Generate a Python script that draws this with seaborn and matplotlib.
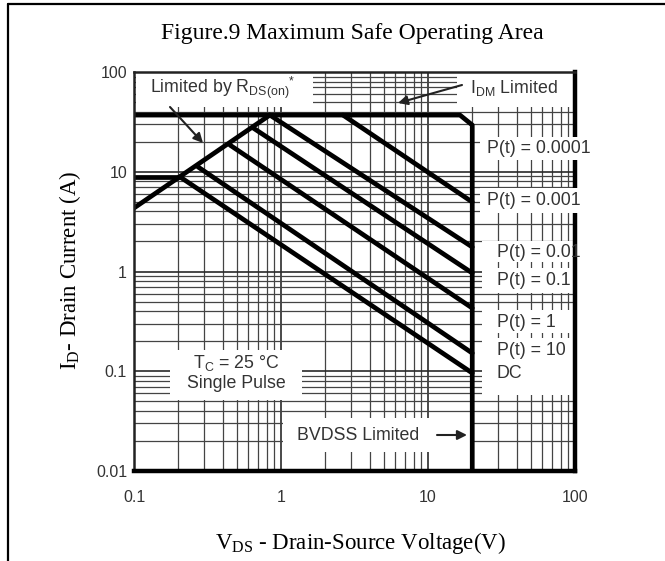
import numpy as np
import pandas as pd
import matplotlib
matplotlib.use("Agg")
import matplotlib.pyplot as plt
import seaborn as sns
from matplotlib.patches import Rectangle
from matplotlib.lines import Line2D
from matplotlib.ticker import FixedLocator, FixedFormatter, LogLocator, NullFormatter

sns.set_theme(style="white")
plt.rcParams['font.family'] = ['Liberation Sans', 'DejaVu Sans']
plt.rcParams['mathtext.default'] = 'regular'

# ---------------- data ----------------
x_ticks = [0.1, 1, 10, 100]
x_tick_labels = ["0.1", "1", "10", "100"]
y_ticks = [0.01, 0.1, 1, 10, 100]
y_tick_labels = ["0.01", "0.1", "1", "10", "100"]

# I_DM limit + BVDSS limit envelope
env_v = [0.1, 16.5, 20, 20]
env_i = [37, 37, 29.4, 0.01]
# continuous current limit at low voltage
idc_v = [0.1, 0.206]
idc_i = [8.86, 8.86]
# R_DS(on) limit
rds_v = [0.1, 0.84]
rds_i = [4.33, 37]
# pulse limit lines (start -> end)
pulse_v0 = [2.64, 0.84, 0.646, 0.45, 0.272, 0.206]
pulse_i0 = [37, 37, 27.5, 18.5, 11.2, 8.86]
pulse_v1 = [20, 20, 20, 20, 20, 20]
pulse_i1 = [4.97, 1.76, 0.966, 0.43, 0.152, 0.096]

pulse_labels = ["P(t) = 0.0001", "P(t) = 0.001", "P(t) = 0.01", "P(t) = 0.1",
                "P(t) = 1", "P(t) = 10", "DC"]

# build long table
rows = []
def add(seg, vs, is_):
    for v, i in zip(vs, is_):
        rows.append({"seg": seg, "V": v, "I": i})
add("env", env_v, env_i)
add("idc", idc_v, idc_i)
add("rds", rds_v, rds_i)
for k in range(len(pulse_v0)):
    add(f"p{k}", [pulse_v0[k], pulse_v1[k]], [pulse_i0[k], pulse_i1[k]])
df = pd.DataFrame(rows)

# ---------------- figure ----------------
W, H = 665, 561
fig = plt.figure(figsize=(W / 100, H / 100), dpi=100)
L, R, T, B = 134, 575, 72, 471
ax = fig.add_axes([L / W, 1 - B / H, (R - L) / W, (B - T) / H])
ax.set_xscale('log')
ax.set_yscale('log')
ax.set_xlim(0.1, 100)
ax.set_ylim(0.01, 100)

sns.lineplot(data=df, x="V", y="I", units="seg", estimator=None, sort=False,
             color="black", lw=3.4, ax=ax, zorder=2, legend=False)
ax.set_xlabel("")
ax.set_ylabel("")

# ticks & grid
ax.xaxis.set_major_locator(FixedLocator(x_ticks))
ax.xaxis.set_major_formatter(FixedFormatter(x_tick_labels))
ax.yaxis.set_major_locator(FixedLocator(y_ticks))
ax.yaxis.set_major_formatter(FixedFormatter(y_tick_labels))
ax.xaxis.set_minor_locator(LogLocator(base=10, subs=np.arange(2, 10)))
ax.yaxis.set_minor_locator(LogLocator(base=10, subs=np.arange(2, 10)))
ax.xaxis.set_minor_formatter(NullFormatter())
ax.yaxis.set_minor_formatter(NullFormatter())
ax.set_axisbelow(True)
ax.grid(True, which='major', color='#2a2a2a', lw=1.2)
ax.grid(True, which='minor', color='#444444', lw=0.9)
ax.tick_params(which='both', length=0, colors='#333333')
ax.tick_params(axis='x', labelsize=11.5, pad=14)
ax.tick_params(axis='y', labelsize=11.5, pad=5)

for side in ['left', 'top']:
    ax.spines[side].set_linewidth(1.8)
    ax.spines[side].set_color('#222222')
for side in ['right', 'bottom']:
    ax.spines[side].set_linewidth(3.2)
    ax.spines[side].set_color('black')

def px2ax(px, py):
    return (px - L) / (R - L), (B - py) / (B - T)

def mask(x0, y0, x1, y1, z=1.5):
    ax0, ay1 = px2ax(x0, y0)
    ax1, ay0 = px2ax(x1, y1)
    ax.add_patch(Rectangle((ax0, ay0), ax1 - ax0, ay1 - ay0, transform=ax.transAxes,
                           facecolor='white', edgecolor='none', zorder=z, clip_on=False))

# white label areas covering the grid
mask(136, 73, 313, 107)
mask(457, 73, 573, 107)
mask(170, 350, 302, 400)
mask(283, 418, 470, 452)
mask(480, 137, 596, 160, z=2.7)
mask(480, 188, 594, 213, z=2.7)
mask(482, 241, 573, 262)
mask(482, 268, 573, 293)
mask(482, 310, 573, 333)
mask(482, 338, 573, 362)
mask(482, 362, 573, 395)

tc = '#333333'
fs = 12.8
def label(px, py, s, ha='left', **kw):
    x, y = px2ax(px, py)
    ax.text(x, y, s, transform=ax.transAxes, ha=ha, va='center', fontsize=fs,
            color=tc, zorder=4, clip_on=False, **kw)

label(150, 88, r"Limited by R$_\mathregular{DS(on)}$$^\mathregular{*}$")
label(470, 88, r"I$_\mathregular{DM}$ Limited")
label(236, 363, r"T$_\mathregular{C}$ = 25 °C", ha='center')
label(236, 384, "Single Pulse", ha='center')
label(297, 435, "BVDSS Limited")

pl_px = [487, 487, 497, 497, 497, 497, 497]
pl_py = [148, 200, 252, 280, 322, 350, 374]
for s, px, py in zip(pulse_labels, pl_px, pl_py):
    label(px, py, s)

def arrow(x0, y0, x1, y1):
    a0 = px2ax(x0, y0)
    a1 = px2ax(x1, y1)
    ax.annotate("", xy=a1, xytext=a0, xycoords='axes fraction', textcoords='axes fraction',
                arrowprops=dict(arrowstyle='-|>', color='#222222', lw=1.5,
                                mutation_scale=14, shrinkA=0, shrinkB=0), zorder=4)

arrow(170, 107, 203, 143)
arrow(462, 85, 398, 103)
arrow(437, 435, 467, 435)

# titles / axis labels (serif)
serif = ['Liberation Serif', 'DejaVu Serif']
fig.text(352 / W, 1 - 33 / H, "Figure.9 Maximum Safe Operating Area", ha='center', va='center',
         fontsize=17, family=serif, color='black')
fig.text(70 / W, 1 - 270 / H, r"I$_\mathregular{D}$- Drain Current (A)", ha='center', va='center',
         rotation=90, fontsize=16.5, family=serif, color='black')
fig.text(360 / W, 1 - 543 / H, r"V$_\mathregular{DS}$ - Drain-Source Voltage(V)", ha='center',
         va='center', fontsize=16.5, family=serif, color='black')

# outer frame (table cell border)
fig.add_artist(Line2D([8 / W, 1], [1 - 4 / H, 1 - 4 / H], transform=fig.transFigure,
                      color='black', lw=1.6))
fig.add_artist(Line2D([8 / W, 8 / W], [0, 1 - 4 / H], transform=fig.transFigure,
                      color='black', lw=1.6))

fig.savefig("out.png", dpi=100)
